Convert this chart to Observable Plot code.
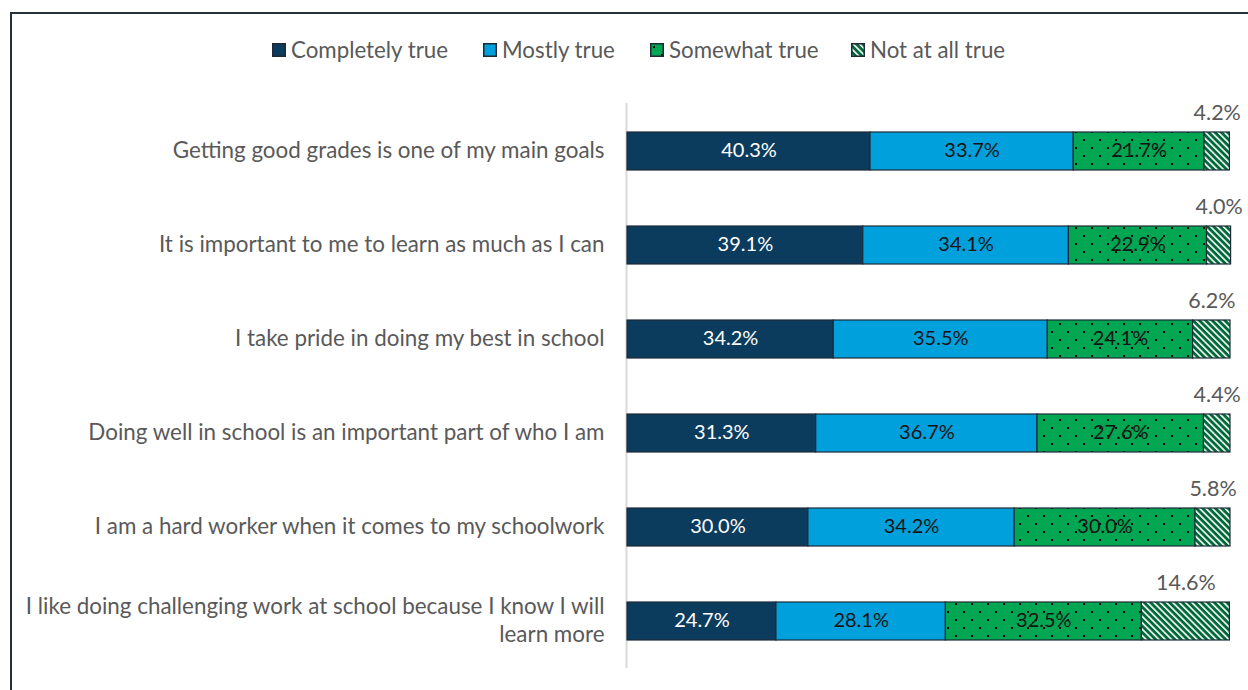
<!DOCTYPE html>
<html>
<head>
<meta charset="utf-8">
<script src="https://cdn.jsdelivr.net/npm/d3@7"></script>
<script src="https://cdn.jsdelivr.net/npm/@observablehq/plot@0.6"></script>
<style>
  html, body { margin: 0; padding: 0; background: #fff; }
  body { width: 1248px; height: 690px; position: relative; overflow: hidden; font-family: Lato, "Open Sans", sans-serif; }
  #frame { position: absolute; left: 10px; top: 12px; width: 1260px; height: 700px; border-left: 2px solid #262f3a; border-top: 2px solid #262f3a; box-sizing: border-box; }
  .leg { position: absolute; top: 36px; display: flex; align-items: center; font-size: 22.3px; color: #595959; white-space: nowrap; }
  .leg svg { margin-right: 5px; }
  #chart { position: absolute; left: 0; top: 80px; }
</style>
</head>
<body>
<svg width="0" height="0" style="position:absolute">
  <defs>
    <pattern id="dots" patternUnits="userSpaceOnUse" width="16" height="16">
      <rect width="16" height="16" fill="#00a651"></rect>
      <rect x="3" y="3" width="2" height="2" fill="#000"></rect>
      <rect x="11" y="11" width="2" height="2" fill="#000"></rect>
    </pattern>
    <pattern id="hatch" patternUnits="userSpaceOnUse" width="4.5" height="4.5" patternTransform="rotate(-45)">
      <rect width="4.5" height="4.5" fill="#00693a"></rect>
      <rect x="0" y="0" width="1.6" height="4.5" fill="#fff"></rect>
    </pattern>
  </defs>
</svg>
<div id="frame"></div>
<div id="legend"></div>
<div id="chart"></div>
<script>
const questions = [
  "Getting good grades is one of my main goals",
  "It is important to me to learn as much as I can",
  "I take pride in doing my best in school",
  "Doing well in school is an important part of who I am",
  "I am a hard worker when it comes to my schoolwork",
  "I like doing challenging work at school because I know I will learn more"
];
const categories = ["Completely true", "Mostly true", "Somewhat true", "Not at all true"];
const completelyTrue = [40.3, 39.1, 34.2, 31.3, 30.0, 24.7];
const mostlyTrue     = [33.7, 34.1, 35.5, 36.7, 34.2, 28.1];
const somewhatTrue   = [21.7, 22.9, 24.1, 27.6, 30.0, 32.5];
const notAtAllTrue   = [4.2, 4.0, 6.2, 4.4, 5.8, 14.6];
const fills = ["#0b3c5d", "#00a0dc", "url(#dots)", "url(#hatch)"];

const series = [completelyTrue, mostlyTrue, somewhatTrue, notAtAllTrue];
const rows = [];
questions.forEach((q, i) => {
  let acc = 0;
  categories.forEach((c, j) => {
    const v = series[j][i];
    rows.push({q, cat: c, value: v, x1: acc, x2: acc + v, mid: acc + v / 2});
    acc += v;
  });
});

const wrapLabel = d => d.startsWith("I like doing") ? "I like doing challenging work at school because I know I will\nlearn more" : d;
const fmt = d => d.value.toFixed(1) + "%";

const chart = Plot.plot({
  width: 1248,
  height: 610,
  marginTop: 23,
  marginBottom: 22,
  marginLeft: 627,
  marginRight: 18,
  style: {fontFamily: "Lato, 'Open Sans', sans-serif", background: "transparent"},
  x: {domain: [0, 100], axis: null},
  y: {domain: questions, paddingInner: 0.6, paddingOuter: 0.3, label: null},
  color: {domain: categories, range: fills},
  marks: [
    Plot.ruleX([0], {stroke: "#d9d9d9", strokeWidth: 2, dx: -1}),
    Plot.barX(rows, {y: "q", x1: "x1", x2: "x2", fill: "cat", stroke: "#1f2a36", strokeWidth: 1.2}),
    Plot.text(rows.filter(d => d.cat === "Completely true"), {y: "q", x: "mid", text: fmt, fill: "#ffffff", fontSize: 20, dy: -1}),
    Plot.text(rows.filter(d => d.cat === "Mostly true" || d.cat === "Somewhat true"), {y: "q", x: "mid", text: fmt, fill: "#141414", fontSize: 20, dy: -1}),
    Plot.text(rows.filter(d => d.cat === "Not at all true"), {y: "q", x: "mid", text: fmt, fill: "#595959", fontSize: 21.5, dy: -38}),
    Plot.axisY({tickSize: 0, tickPadding: 23, fontSize: 22.4, fill: "#595959", tickFormat: wrapLabel, lineHeight: 1.25, dy: -2})
  ]
});
document.getElementById("chart").appendChild(chart);

const legendX = [272, 483, 650, 851];
const legend = document.getElementById("legend");
categories.forEach((c, i) => {
  const item = document.createElement("div");
  item.className = "leg";
  item.style.left = legendX[i] + "px";
  item.innerHTML = `<svg width="14" height="14"><rect x="0.75" y="0.75" width="12.5" height="12.5" fill="${fills[i]}" stroke="#1f2a36" stroke-width="1.5"></rect></svg><span>${c}</span>`;
  legend.appendChild(item);
});
</script>
</body>
</html>
